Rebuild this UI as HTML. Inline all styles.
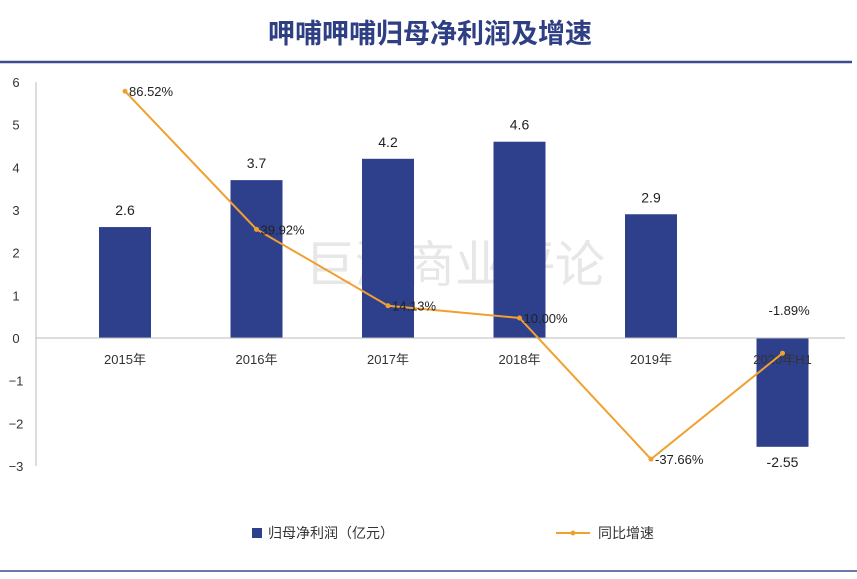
<!DOCTYPE html>
<html><head><meta charset="utf-8"><style>
body{margin:0;background:#fff;}
svg text{font-family:"Liberation Sans","Noto Sans CJK SC",sans-serif;}
</style></head><body>
<svg id="chart" width="857" height="574" xmlns="http://www.w3.org/2000/svg">
<rect width="857" height="574" fill="#fff"/>
<text x="430" y="43" text-anchor="middle" font-size="27" font-weight="bold" fill="#2e3f84">呷哺呷哺归母净利润及增速</text>
<line x1="0" y1="62" x2="852" y2="62" stroke="#3b4c8c" stroke-width="2.5"/>
<line x1="0" y1="571" x2="857" y2="571" stroke="#3b4c8c" stroke-width="1.5"/>
<text x="455" y="282" text-anchor="middle" font-size="50" fill="#d8d8d8" opacity="0.6">巨潮商业评论</text>
<g id="plot"></g>
<g>
<rect x="252" y="528" width="10" height="10" fill="#2e3f8c"/>
<text x="268" y="538" font-size="14" fill="#333">归母净利润（亿元）</text>
<line x1="556" y1="533" x2="590" y2="533" stroke="#f0a030" stroke-width="2"/>
<circle cx="573" cy="533" r="2.5" fill="#f0a030"/>
<text x="598" y="538" font-size="14" fill="#333">同比增速</text>
</g>
</svg>
<script>
const categories=["2015年","2016年","2017年","2018年","2019年","2020年H1"];
const profit=[2.6,3.7,4.2,4.6,2.9,-2.55];
const profitLabels=["2.6","3.7","4.2","4.6","2.9","-2.55"];
const growth=[86.52,39.92,14.13,10.00,-37.66,-1.89];
const growthLabels=["86.52%","39.92%","14.13%","10.00%","-37.66%","-1.89%"];
const yTicks=[6,5,4,3,2,1,0,-1,-2,-3];
const NS="http://www.w3.org/2000/svg";
const g=document.getElementById('plot');
const y=v=>338-v*42.67;
const y2=p=>347.6-p*2.963;
const x=i=>125+i*131.5;
function mk(t,a,txt){const e=document.createElementNS(NS,t);for(const k in a)e.setAttribute(k,a[k]);if(txt!=null)e.textContent=txt;g.appendChild(e);return e;}
let ax=mk('line',{x1:36,y1:y(6),x2:36,y2:y(-3),stroke:'#bbb','stroke-width':1});


yTicks.forEach(v=>{const t=mk('text',{x:16,y:y(v)+5,'text-anchor':'middle','font-size':13,fill:'#333'},v<0?'−'+(-v):String(v));

});
profit.forEach((v,i)=>{const r=mk('rect',{x:x(i)-26,y:Math.min(y(v),y(0)),width:52,height:Math.abs(y(v)-y(0)),fill:'#2e3f8c'});


const ly=v>=0?y(v)-12:y(v)+20;
const t=mk('text',{x:x(i),y:ly,'text-anchor':'middle','font-size':14,fill:'#222'},profitLabels[i]);

});
let zl=mk('line',{x1:36,y1:y(0),x2:845,y2:y(0),stroke:'#bbb','stroke-width':1});


categories.forEach((c,i)=>{const t=mk('text',{x:x(i),y:y(0)+26,'text-anchor':'middle','font-size':13,fill:'#333'},c);

});
const pl=mk('polyline',{points:growth.map((p,i)=>x(i)+','+y2(p)).join(' '),fill:'none',stroke:'#f0a030','stroke-width':2});


growth.forEach((p,i)=>{const c=mk('circle',{cx:x(i),cy:y2(p),r:2.5,fill:'#f0a030'});


const last=i===growth.length-1;
const t=mk('text',{x:last?x(i)-14:x(i)+4,y:last?y2(p)-38:y2(p)+5,'font-size':13,fill:'#222'},growthLabels[i]);

});
</script>
</body></html>
